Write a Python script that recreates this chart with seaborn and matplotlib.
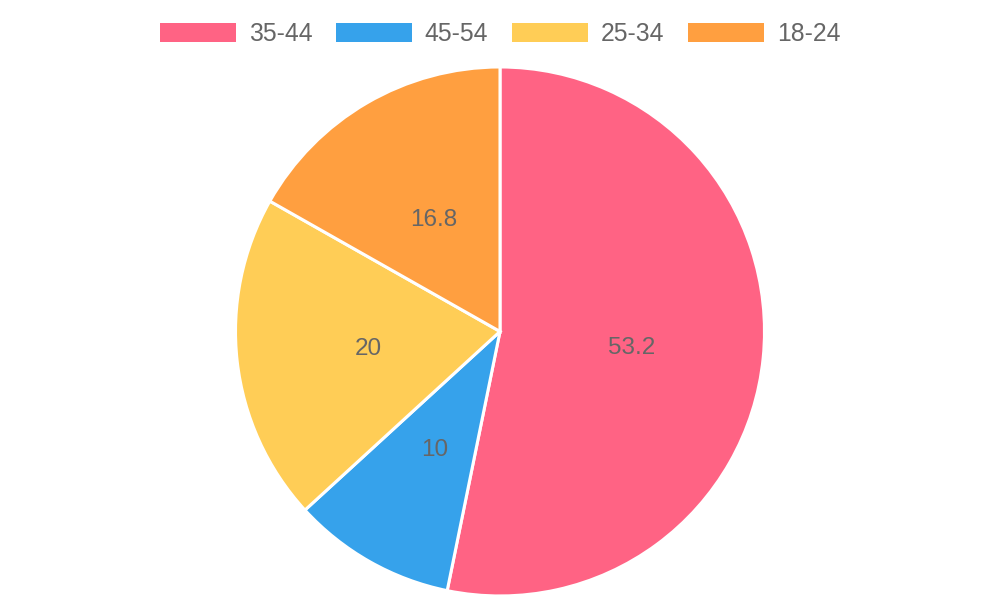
import matplotlib
matplotlib.use("Agg")
import matplotlib.pyplot as plt
import matplotlib.transforms as mtransforms
import seaborn as sns
from matplotlib.patches import Patch

categories = ["35-44", "45-54", "25-34", "18-24"]
values = [53.2, 10, 20, 16.8]
colors = ["#FF6384", "#36A2EB", "#FFCD56", "#FF9F40"]

sns.set_theme(style="white")
plt.rcParams['font.family'] = ['Liberation Sans', 'DejaVu Sans']
palette = sns.color_palette(colors)

fig = plt.figure(figsize=(10, 6), dpi=100)
ax = fig.add_axes([0.2355, 0.0067, 0.529, 0.8817])
wedges, texts = ax.pie(values, colors=palette, startangle=90, counterclock=False,
                       labels=[f"{v:g}" for v in values], labeldistance=0.5,
                       wedgeprops=dict(edgecolor="white", linewidth=2.2),
                       textprops=dict(color="#666666", fontsize=17.5, ha="center", va="center"))
shift = mtransforms.offset_copy(ax.transData, fig=fig, x=0, y=-3, units="dots")
for t in texts:
    t.set_transform(shift)
ax.set_xlim(-1, 1)
ax.set_ylim(-1, 1)
ax.axis("off")

handles = [Patch(facecolor=c, edgecolor="none") for c in palette]
fig.legend(handles, categories, loc="center", bbox_to_anchor=(0.5, 1 - 34 / 600), ncol=4,
           frameon=False, fontsize=17.8, labelcolor="#666666",
           handlelength=3.1, handleheight=0.8, handletextpad=0.5, columnspacing=0.95)

fig.savefig("out.png", dpi=100)
